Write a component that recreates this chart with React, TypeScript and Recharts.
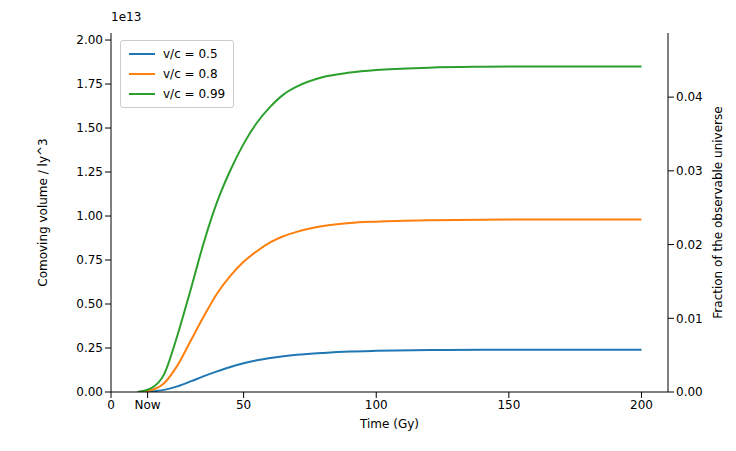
import React from 'react';
import { LineChart, Line, XAxis, YAxis } from 'recharts';

const times = [10, 15, 20, 25, 30, 35, 40, 45, 50, 55, 60, 65, 70, 80, 90, 100, 120, 140, 160, 180, 200];
const slow = [0, 0.003, 0.012, 0.032, 0.06, 0.09, 0.117, 0.142, 0.163, 0.18, 0.193, 0.203, 0.211, 0.222, 0.23, 0.234, 0.238, 0.24, 0.24, 0.24, 0.24];
const mid = [0, 0.01, 0.05, 0.15, 0.29, 0.43, 0.56, 0.66, 0.74, 0.8, 0.85, 0.885, 0.91, 0.943, 0.96, 0.968, 0.976, 0.979, 0.98, 0.98, 0.98];
const fast = [0, 0.02, 0.1, 0.32, 0.58, 0.85, 1.08, 1.26, 1.41, 1.53, 1.62, 1.69, 1.735, 1.79, 1.815, 1.83, 1.843, 1.848, 1.85, 1.85, 1.85];
const xTicks = [0, 13.8, 50, 100, 150, 200];
const leftTicks = [0, 0.25, 0.5, 0.75, 1, 1.25, 1.5, 1.75, 2];
const rightTicks = [0, 0.01, 0.02, 0.03, 0.04];
const series = [
  { key: 'a', name: 'v/c = 0.5', color: '#1f77b4' },
  { key: 'b', name: 'v/c = 0.8', color: '#ff7f0e' },
  { key: 'c', name: 'v/c = 0.99', color: '#2ca02c' },
];

const data = times.map((t, i) => ({ t, a: slow[i], b: mid[i], c: fast[i], zero: 0 }));

const font = 'DejaVu Sans, sans-serif';
const tick = { fill: '#000', fontSize: 12, fontFamily: font };
const axisLine = { stroke: '#000' };

export default function App() {
  return (
    <div style={{ margin: -8, width: 736, height: 451, position: 'relative', background: '#fff', fontFamily: font }}>
      <span style={{ position: 'absolute', left: 111, top: 10, fontSize: 12 }}>1e13</span>
      <div style={{ position: 'absolute', left: 120, top: 40, zIndex: 2, background: '#fff', border: '1px solid #ccc', borderRadius: 3, padding: '3px 8px', fontSize: 12, lineHeight: '20px' }}>
        {series.map(s => (
          <div key={s.key} style={{ display: 'flex', alignItems: 'center' }}>
            <span style={{ display: 'inline-block', width: 26, height: 2, background: s.color, marginRight: 8 }} />
            {s.name}
          </div>
        ))}
      </div>
      <LineChart width={736} height={451} data={data} margin={{ top: 33, left: 41, right: 8, bottom: 19 }}>
        <XAxis
          dataKey="t" type="number" domain={[0, 210]} ticks={xTicks} interval={0}
          tick={tick} axisLine={axisLine} tickLine={axisLine} height={40}
          tickFormatter={(v: number) => (v === 13.8 ? 'Now' : String(v))}
          label={{ value: 'Time (Gy)', position: 'insideBottom', offset: 4, fill: '#000', fontSize: 12, fontFamily: font }}
        />
        <XAxis xAxisId="top" orientation="top" dataKey="t" type="number" domain={[0, 210]} tick={false} tickLine={false} axisLine={axisLine} height={0} />
        <YAxis
          yAxisId="left" domain={[0, 2.04]} ticks={leftTicks} interval={0} allowDataOverflow
          tick={tick} axisLine={axisLine} tickLine={axisLine} width={70}
          tickFormatter={(v: number) => v.toFixed(2)}
          label={{ value: 'Comoving volume / ly^3', angle: -90, position: 'insideLeft', offset: 2, fill: '#000', fontSize: 12, fontFamily: font, style: { textAnchor: 'middle' } }}
        />
        <YAxis
          yAxisId="right" orientation="right" domain={[0, 0.0487]} ticks={rightTicks} interval={0} allowDataOverflow
          tick={tick} axisLine={axisLine} tickLine={axisLine} width={60}
          tickFormatter={(v: number) => v.toFixed(2)}
          label={{ value: 'Fraction of the observable universe', angle: -90, position: 'insideRight', offset: 10, fill: '#000', fontSize: 12, fontFamily: font, style: { textAnchor: 'middle' } }}
        />
        <Line yAxisId="right" dataKey="zero" stroke="none" dot={false} legendType="none" isAnimationActive={false} />
        {series.map(s => (
          <Line key={s.key} yAxisId="left" dataKey={s.key} name={s.name} type="monotone" stroke={s.color} strokeWidth={2} dot={false} isAnimationActive={false} />
        ))}
      </LineChart>
    </div>
  );
}
